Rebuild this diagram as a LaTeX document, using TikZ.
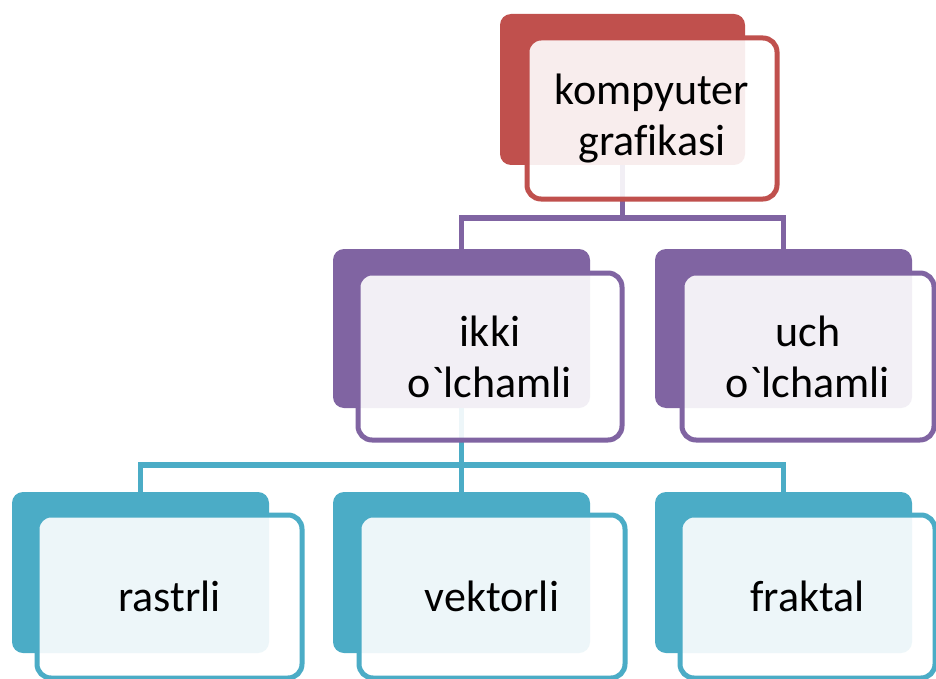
\documentclass[tikz,border=0pt]{standalone}
\usepackage{fontspec}
\setmainfont{Carlito}[Ligatures={TeXOff,CommonOff}]
\definecolor{accRed}{HTML}{C0504D}
\definecolor{accPurple}{HTML}{8064A2}
\definecolor{accTeal}{HTML}{4BACC6}
\begin{document}
\begin{tikzpicture}[x=1pt,y=-1pt,
  backbox/.style={draw=none, fill=#1, rounded corners=11pt, inner sep=0pt},
  frontbox/.style={draw=#1, line width=5pt, fill=white, fill opacity=0.9,
    text opacity=1, rounded corners=14pt, inner sep=0pt, align=center,
    font=\fontsize{44}{51}\selectfont},
  link/.style={draw=#1, line width=5.5pt}]
\useasboundingbox[fill=white] (0,0) rectangle (936,679);

% coloured back panels
\node[backbox=accRed, minimum width=245, minimum height=151] (kgB) at (622.5,89.5) {};
\node[backbox=accPurple, minimum width=257, minimum height=159] (ikB) at (461.5,328.5) {};
\node[backbox=accPurple, minimum width=257, minimum height=159] (ucB) at (783.5,328.5) {};
\node[backbox=accTeal, minimum width=257, minimum height=161] (raB) at (140.5,572.5) {};
\node[backbox=accTeal, minimum width=257, minimum height=161] (veB) at (461.5,572.5) {};
\node[backbox=accTeal, minimum width=257, minimum height=161] (frB) at (783.5,572.5) {};

% connectors
\coordinate (busA) at (622.5,218);
\coordinate (busB) at (461.5,465);
\draw[link=accPurple] (kgB.south) -- (busA) -| (ikB.north);
\draw[link=accPurple] (busA) -| (ucB.north);
\draw[link=accTeal] (ikB.south) -- (busB) -| (raB.north);
\draw[link=accTeal] (busB) -- (veB.north);
\draw[link=accTeal] (busB) -| (frB.north);

% front text panels
\node[frontbox=accRed, minimum width=250, minimum height=161] (kg) at (652,118.5) {kompyuter\\grafikasi};
\node[frontbox=accPurple, minimum width=264, minimum height=167] (ik) at (490,356.5) {ikki\\o`lchamli};
\node[frontbox=accPurple, minimum width=252, minimum height=167] (uc) at (808,356.5) {uch\\o`lchamli};
\node[frontbox=accTeal, minimum width=265, minimum height=163] (ra) at (169.5,596.5) {rastrli};
\node[frontbox=accTeal, minimum width=266, minimum height=163] (ve) at (492,596.5) {vektorli};
\node[frontbox=accTeal, minimum width=255, minimum height=163] (fr) at (807.5,596.5) {fraktal};
\end{tikzpicture}
\end{document}
